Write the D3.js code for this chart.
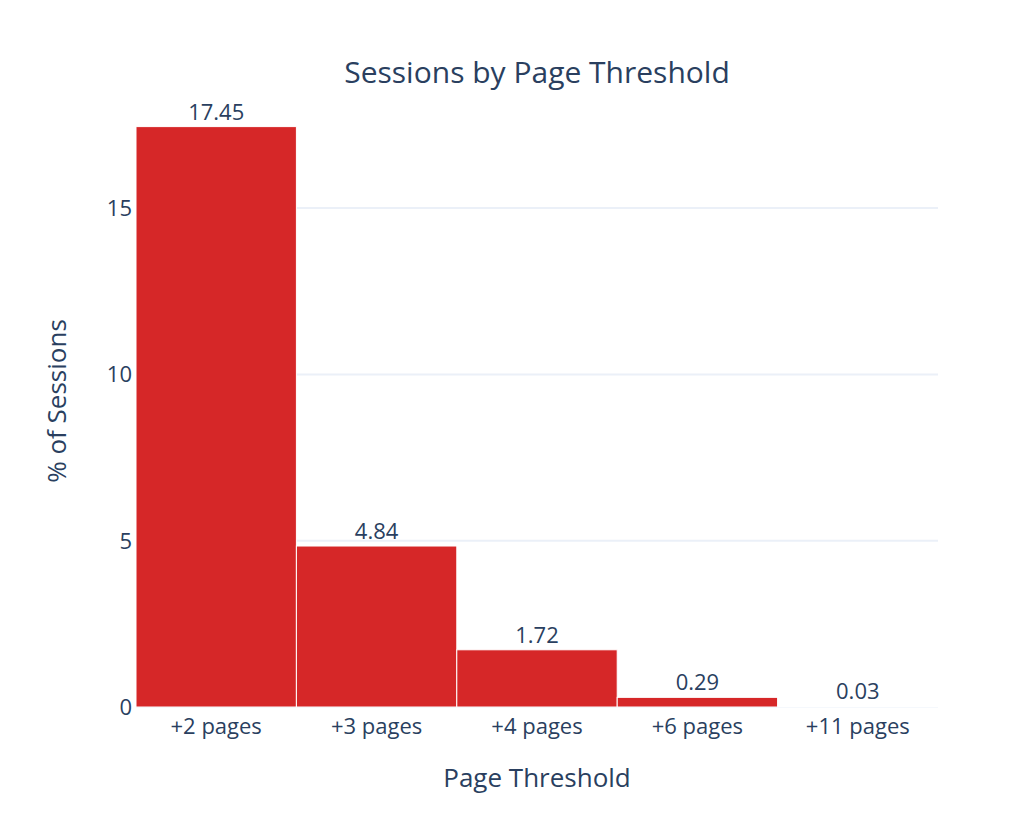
<!DOCTYPE html>
<html><head><meta charset="utf-8">
<script src="https://cdn.jsdelivr.net/npm/d3@7"></script>
<style>body{margin:0;background:#fff}text{font-family:"Open Sans",sans-serif;fill:#2a3f5f}</style>
</head><body><svg id="c" width="1036" height="826"></svg>
<script>
const categories=["+2 pages","+3 pages","+4 pages","+6 pages","+11 pages"];
const values=[17.45,4.84,1.72,0.29,0.03];
const yTicks=[0,5,10,15];
const svg=d3.select("#c");
const L=136,R=938,T=96,B=707;
const x=d3.scaleBand().domain(categories).range([L,R]).padding(0);
const y=d3.scaleLinear().domain([0,18.37]).range([B,T]);
svg.append("g").selectAll("line").data(yTicks).join("line")
 .attr("x1",L).attr("x2",R).attr("y1",d=>y(d)).attr("y2",d=>y(d))
 .attr("stroke","#ebf0f8").attr("stroke-width",2);
svg.append("g").selectAll("text").data(yTicks).join("text")
 .attr("x",L-4).attr("y",d=>y(d)+8).attr("text-anchor","end").attr("font-size",22).text(d=>d);
svg.append("g").selectAll("rect").data(values).join("rect")
 .attr("x",(d,i)=>x(categories[i])).attr("width",x.bandwidth())
 .attr("y",d=>y(d)).attr("height",d=>B-y(d))
 .attr("fill","#d62728").attr("stroke","#fff").attr("stroke-width",1);
svg.append("g").selectAll("text").data(values).join("text")
 .attr("x",(d,i)=>x(categories[i])+x.bandwidth()/2).attr("y",d=>y(d)-7)
 .attr("text-anchor","middle").attr("font-size",22).text(d=>d.toFixed(2));
svg.append("g").selectAll("text").data(categories).join("text")
 .attr("x",d=>x(d)+x.bandwidth()/2).attr("y",734).attr("text-anchor","middle").attr("font-size",22).text(d=>d);
svg.append("text").attr("x",(L+R)/2).attr("y",787).attr("text-anchor","middle").attr("font-size",26).text("Page Threshold");
svg.append("text").attr("transform","translate(66,401) rotate(-90)").attr("text-anchor","middle").attr("font-size",26).text("% of Sessions");
svg.append("text").attr("x",537).attr("y",83).attr("text-anchor","middle").attr("font-size",30).text("Sessions by Page Threshold");
</script></body></html>
